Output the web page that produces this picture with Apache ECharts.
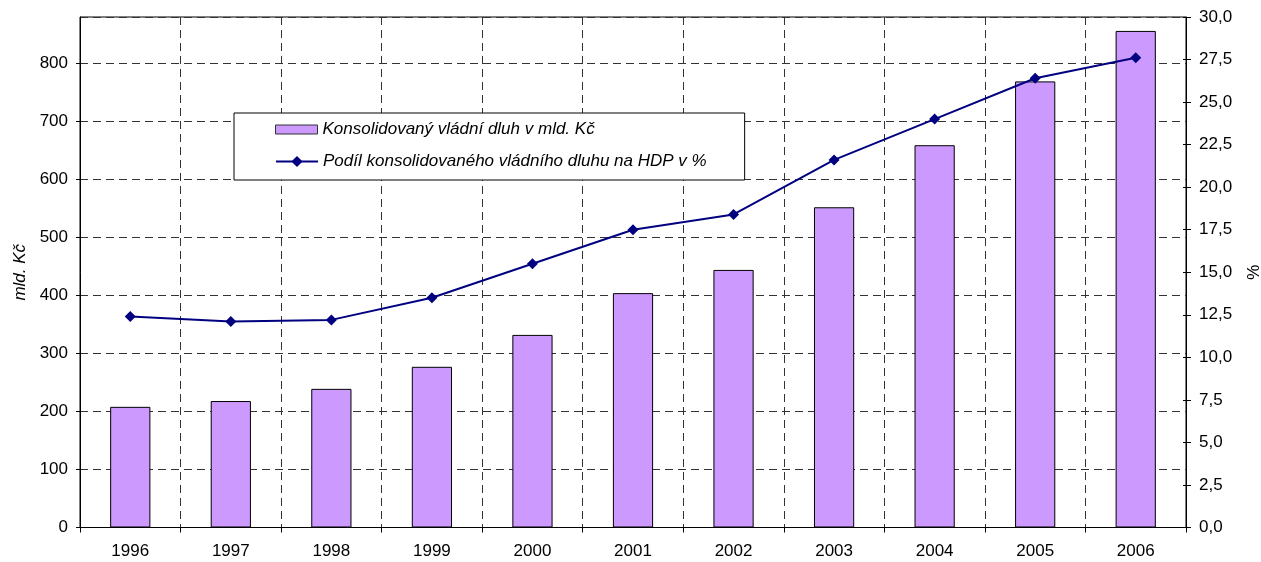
<!DOCTYPE html>
<html>
<head>
<meta charset="utf-8">
<script src="https://cdn.jsdelivr.net/npm/echarts@6/dist/echarts.min.js"></script>
<style>
  html, body { margin: 0; padding: 0; background: #fff; }
  #chart { width: 1261px; height: 562px; }
</style>
</head>
<body>
<div id="chart"></div>
<script>
// Konsolidovaný vládní dluh ČR, 1996–2006
const years = ['1996', '1997', '1998', '1999', '2000', '2001', '2002', '2003', '2004', '2005', '2006'];
const debtBn = [208, 218, 239, 277, 332, 404, 444, 552, 659, 769, 856];
const debtPctGdp = [12.4, 12.1, 12.2, 13.5, 15.5, 17.5, 18.4, 21.6, 24.0, 26.4, 27.6];

const barName = 'Konsolidovaný vládní dluh v mld. Kč';
const lineName = 'Podíl konsolidovaného vládního dluhu na HDP v %';

const FONT = 'Liberation Sans, Arial, sans-serif';
const FS = 17;
const legendText = { fontFamily: FONT, fontSize: FS, fontStyle: 'italic', color: '#000' };

const chart = echarts.init(document.getElementById('chart'), null, { renderer: 'canvas' });

chart.setOption({
  backgroundColor: '#ffffff',
  animation: false,
  textStyle: { fontFamily: FONT, color: '#000' },
  grid: {
    left: 80, right: 75, top: 17, bottom: 34.5,
    outerBoundsMode: 'none', containLabel: false,
    show: true, borderColor: '#000', borderWidth: 1, backgroundColor: 'transparent'
  },
  legend: [
    {
      // framed box holding the bar entry; padding leaves room for the line entry below
      left: 234, top: 113,
      orient: 'vertical',
      data: [{ name: barName, icon: 'rect' }],
      itemWidth: 42, itemHeight: 9,
      padding: [8, 150, 42, 41],
      borderColor: '#000', borderWidth: 1, backgroundColor: '#fff',
      itemStyle: { borderWidth: 1, borderColor: '#333' },
      textStyle: legendText
    },
    {
      left: 275, top: 153,
      orient: 'vertical',
      data: [{ name: lineName }],
      itemWidth: 42, itemHeight: 14,
      padding: 0,
      textStyle: legendText
    }
  ],
  xAxis: {
    type: 'category',
    data: years,
    boundaryGap: true,
    axisLine: { lineStyle: { color: '#000', width: 1 } },
    axisTick: { show: true, length: 5, lineStyle: { color: '#000' } },
    axisLabel: { fontSize: FS, color: '#000', margin: 15, fontFamily: FONT },
    splitLine: { show: true, lineStyle: { color: '#333', type: [8, 5], width: 1 } }
  },
  yAxis: [
    {
      type: 'value', position: 'left',
      min: 0, max: 880, interval: 100,
      name: 'mld. Kč', nameLocation: 'middle', nameGap: 49, nameRotate: 90,
      nameTextStyle: { fontSize: FS, fontStyle: 'italic', color: '#000', fontFamily: FONT },
      axisLine: { show: true, lineStyle: { color: '#000', width: 1 } },
      axisTick: { show: true, length: 4, lineStyle: { color: '#000' } },
      axisLabel: { fontSize: FS, color: '#000', margin: 12, showMaxLabel: false, fontFamily: FONT },
      splitLine: { show: true, lineStyle: { color: '#333', type: [8, 5], width: 1 } }
    },
    {
      type: 'value', position: 'right',
      min: 0, max: 30, interval: 2.5,
      name: '%', nameLocation: 'middle', nameGap: 54, nameRotate: -90,
      nameTextStyle: { fontSize: FS, color: '#000', fontFamily: FONT },
      axisLine: { show: true, lineStyle: { color: '#000', width: 1 } },
      axisTick: { show: true, length: 5, lineStyle: { color: '#000' } },
      axisLabel: {
        fontSize: FS, color: '#000', margin: 13, fontFamily: FONT,
        formatter: v => v.toFixed(1).replace('.', ',')
      },
      splitLine: { show: false }
    },
    {
      // inner half of the right-hand cross ticks
      type: 'value', position: 'right',
      min: 0, max: 30, interval: 2.5,
      axisLine: { show: false },
      axisTick: { show: true, inside: true, length: 3, lineStyle: { color: '#000' } },
      axisLabel: { show: false },
      splitLine: { show: false }
    }
  ],
  series: [
    {
      name: barName,
      type: 'bar',
      yAxisIndex: 0,
      data: debtBn,
      barWidth: '40%',
      itemStyle: { color: '#CC99FF', borderColor: '#000', borderWidth: 1 }
    },
    {
      name: lineName,
      type: 'line',
      yAxisIndex: 1,
      data: debtPctGdp,
      symbol: 'diamond',
      symbolSize: 11,
      lineStyle: { color: '#000080', width: 2 },
      itemStyle: { color: '#000080' },
      z: 5
    }
  ]
});
</script>
</body>
</html>
